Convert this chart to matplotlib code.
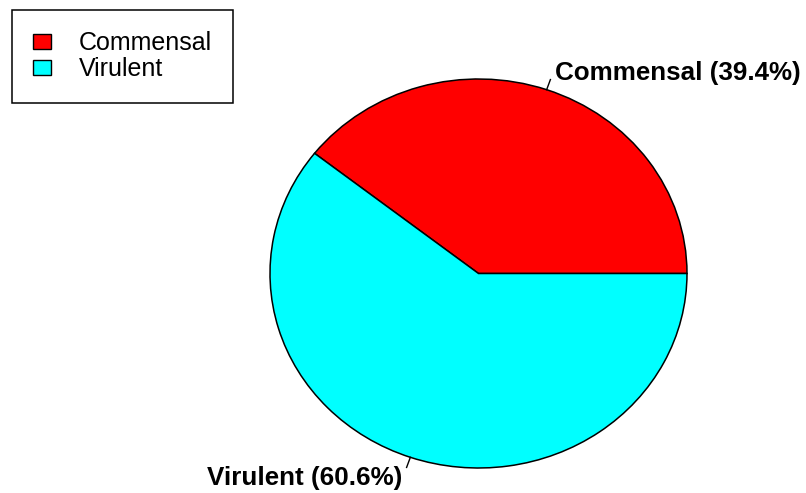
import numpy as np
import matplotlib
matplotlib.use("Agg")
import matplotlib.pyplot as plt
from matplotlib.patches import Patch

# data
groups = ["Commensal", "Virulent"]
shares = [39.4, 60.6]
colors = ["#ff0000", "#00ffff"]

plt.rcParams['font.family'] = ['Liberation Sans', 'DejaVu Sans']

W, H = 806, 493
fig = plt.figure(figsize=(W / 100, H / 100), dpi=100)

# pie axes: ellipse 270..687 px wide, 79..468 px tall
ax = fig.add_axes([270 / W, 1 - 468 / H, 417 / W, 389 / H])
wedges, _ = ax.pie(shares, colors=colors, startangle=0, counterclock=True,
                   wedgeprops=dict(edgecolor='black', linewidth=1.1))
ax.set_aspect('auto')
ax.set_xlim(-1, 1)
ax.set_ylim(-1, 1)
ax.axis('off')

# labels with short leader lines
for w, name, val in zip(wedges, groups, shares):
    mid = np.deg2rad((w.theta1 + w.theta2) / 2)
    cx, cy = np.cos(mid), np.sin(mid)
    ax.plot([cx, 1.055 * cx], [cy, 1.055 * cy], color='black', lw=1.0,
            clip_on=False)
    label = f"{name} ({val}%)"
    if cy > 0:
        ax.text(0.367, 0.995, label, ha='left', va='baseline',
                fontsize=18.7, fontweight='bold', clip_on=False)
    else:
        ax.text(-0.367, -1.087, label, ha='right', va='baseline',
                fontsize=18.7, fontweight='bold', clip_on=False)

handles = [Patch(facecolor=c, edgecolor='black', linewidth=1.0) for c in colors]
leg = fig.legend(handles, groups, loc='upper left',
                 bbox_to_anchor=(12 / W, 1 - 10 / H), borderaxespad=0,
                 fontsize=18, frameon=True, fancybox=False, shadow=False,
                 handlelength=0.72, handleheight=0.52, handletextpad=1.1,
                 labelspacing=0.08, borderpad=0.85)
leg.get_frame().set_edgecolor('black')
leg.get_frame().set_linewidth(1.1)
leg.get_frame().set_alpha(1)

fig.savefig("out.png", dpi=100)
